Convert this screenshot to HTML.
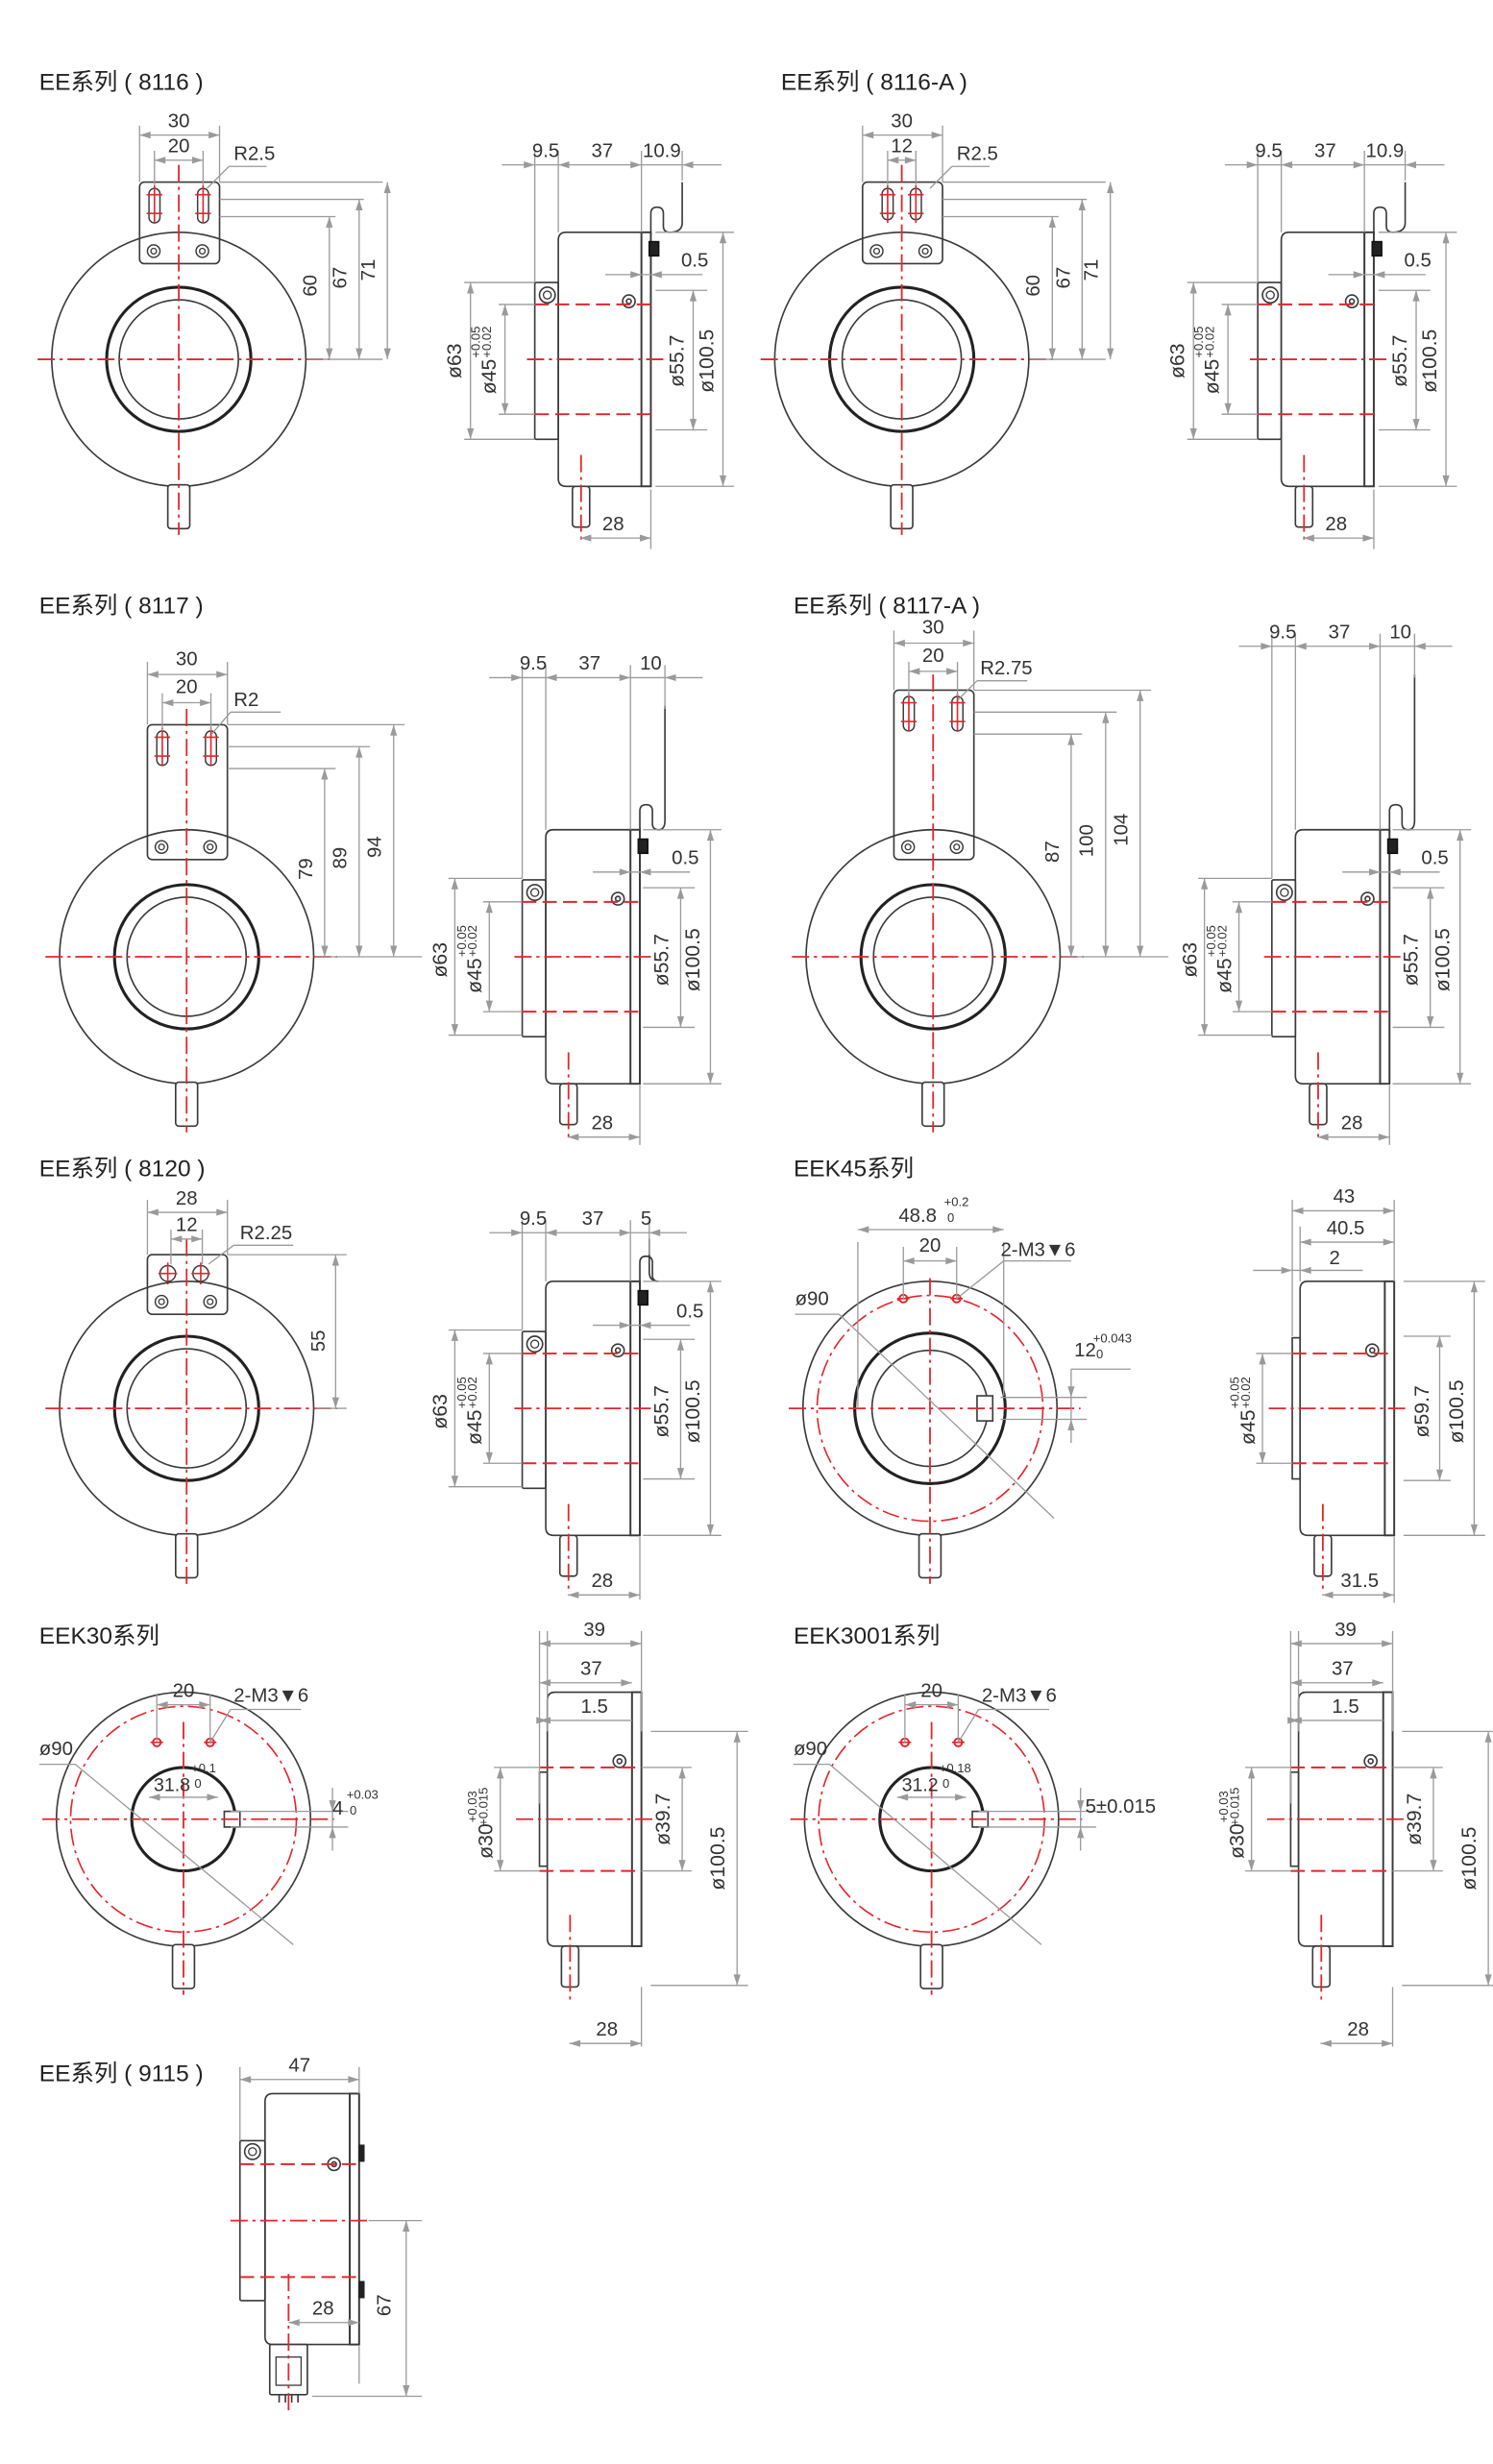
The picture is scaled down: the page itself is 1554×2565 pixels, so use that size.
<!DOCTYPE html>
<html><head><meta charset="utf-8">
<style>
html,body{margin:0;padding:0;background:#fff;}
#c{width:1554px;height:2560px;}
svg text{font-family:"Liberation Sans Narrow","Liberation Sans","Noto Sans CJK SC",sans-serif;fill:#333;}
svg text.h{font-family:"Liberation Sans","Noto Sans CJK SC",sans-serif;fill:#222;}
</style></head><body>
<div id="c"></div>
<script>
const S=[];const RED='#e3262c',G='#9a9a9a',K='#3a3a3a';
function L(x1,y1,x2,y2,c,w,da){S.push(`<line x1="${x1}" y1="${y1}" x2="${x2}" y2="${y2}" stroke="${c||K}" stroke-width="${w||0.8}"${da?` stroke-dasharray="${da}"`:''}/>`);}
function R(x,y,w,h,rx,c,sw,fill){S.push(`<rect x="${x}" y="${y}" width="${w}" height="${h}" rx="${rx||0}" fill="${fill||'none'}" stroke="${c||K}" stroke-width="${sw||0.9}"/>`);}
function C(x,y,r,c,sw,da,fill){S.push(`<circle cx="${x}" cy="${y}" r="${r}" fill="${fill||'none'}" stroke="${c||K}" stroke-width="${sw||0.9}"${da?` stroke-dasharray="${da}"`:''}/>`);}
function P(d,c,sw,fill){S.push(`<path d="${d}" fill="${fill||'none'}" stroke="${c||K}" stroke-width="${sw||0.9}"/>`);}
function T(x,y,s,sz,rot,cls){sz=sz||12.5;S.push(`<text x="${x}" y="${y}" font-size="${sz}" text-anchor="middle"${cls?` class="${cls}"`:''}${rot?` transform="rotate(-90 ${x} ${y})"`:''}>${s}</text>`);}
function TL(x,y,s,sz,cls){S.push(`<text x="${x}" y="${y}" font-size="${sz||12.5}"${cls?` class="${cls}"`:''}>${s}</text>`);}
function arr(x,y,d){let p;const a=7,b=2.2;
 if(d=='l')p=`${x},${y} ${x+a},${y-b} ${x+a},${y+b}`;if(d=='r')p=`${x},${y} ${x-a},${y-b} ${x-a},${y+b}`;
 if(d=='u')p=`${x},${y} ${x-b},${y+a} ${x+b},${y+a}`;if(d=='d')p=`${x},${y} ${x-b},${y-a} ${x+b},${y-a}`;
 S.push(`<polygon points="${p}" fill="${G}"/>`);}
function dH(x1,x2,y){L(x1,y,x2,y,G);arr(x1,y,'l');arr(x2,y,'r');}
function dV(x,y1,y2){L(x,y1,x,y2,G);arr(x,y1,'u');arr(x,y2,'d');}
/* rotated label with stacked tolerance */
function TV(x,y,main,t1,t2){T(x,y+8,main,13,1);T(x-10,y-14,t1,8,1);T(x-3,y-14,t2,8,1);}
const DD='11 3 2 3',DS='9 4';
function H(x,y,s){TL(x,y,s,15,'h');}
function front(cx,cy,o){
 C(cx,cy,81,K,1);
 if(o.red)C(cx,cy,72,RED,1,DD);
 const ro=o.ro||46,ri=o.ri||38;
 C(cx,cy,ro,'#222',1.9);if(ri!=ro)C(cx,cy,ri,K,1);
 if(o.key){R(cx+ri-7,cy-o.key,10,o.key*2,0,K,1,'#fff');}
 R(cx-7,cy+80,14,28,2,K,1,'#fff');
 L(cx-90,cy,cx+96,cy,RED,1.1,DD);
 L(cx,(o.vtop||cy-96),cx,cy+112,RED,1.1,DD);
}
function bracket(cx,top,bot,slot,round){
 R(cx-25,top,51,bot-top,3,K,1,'#fff');
 if(round){[cx-12,cx+9].forEach(x=>{C(x,top+12,5,K,0.9);L(x-6,top+12,x+6,top+12,RED,1);L(x,top+5,x,top+19,RED,1);});}
 else{[cx-slot,cx+slot].forEach(x=>{R(x-3.5,top+4,7,slot>10?22:20,3.5,K,0.9);L(x,top+2,x,top+26,RED,1);L(x-5,top+8,x+5,top+8,RED,1);L(x-5,top+20,x+5,top+20,RED,1);});}
 [cx-16,cx+15].forEach(x=>{C(x,bot-8,4,K,0.9);C(x,bot-8,1.8,K,0.8);});
}
function side(x0,cy,o){
 const w=o.w||53,t=cy-81,b=cy+81;
 if(o.plate){R(x0-15,cy-49,15,100,1,K,1,'#fff');C(x0-7,cy-41,5,K,1);C(x0-7,cy-41,2.5,K,0.8);}
 if(o.collar){R(x0-5,cy-o.collar,5,o.collar*2,0,K,1,'#fff');}
 P(`M${x0+w},${t} L${x0+5},${t} Q${x0},${t} ${x0},${t+5} L${x0},${b-5} Q${x0},${b} ${x0+5},${b} L${x0+w},${b}`,K,1);
 R(x0+w,t,6,162,0,K,1.2,'#fff');
 C(x0+w-8,cy-37,4,K,1);C(x0+w-8,cy-37,1.5,K,1);
 const ry=o.ry||35;
 L(x0-(o.plate?15:5),cy-ry,x0+w+6,cy-ry,RED,1.2,DS);L(x0-(o.plate?15:5),cy+ry,x0+w+6,cy+ry,RED,1.2,DS);
 L(x0-20,cy,x0+w+14,cy,RED,1.1,DD);
 R(x0+9,b,11,26,2,K,1,'#fff');L(x0+14.5,b-20,x0+14.5,b+34,RED,1.1,DD);
 if(o.wire){const px=x0+w+6,wx=px+o.wd;
  P(`M${px},${t+2} L${px},${t-12} Q${px},${t-16} ${px+4},${t-16} Q${px+8},${t-16} ${px+8},${t-12} L${px+8},${t-4} Q${px+8},${t} ${px+12},${t} Q${wx},${t} ${wx},${t-6} L${wx},${o.wire}`,K,1);
  R(px-1,t+6,6,9,0,'#111',1,'#222');}
}
function row1(ox,twelve){
 H(twelve?498:25,57,twelve?'EE系列 ( 8116-A )':'EE系列 ( 8116 )');
 const cx=ox+114,cy=229;
 bracket(cx,116,168,twelve?9:15.5);
 front(cx,cy,{vtop:105});
 L(cx-25,80,cx-25,116,G);L(cx+26,80,cx+26,116,G);dH(cx-25,cx+26,86);T(cx,81,'30');
 const s=twelve?9:15.5;L(cx-s,96,cx-s,118,G);L(cx+s,96,cx+s,118,G);dH(cx-s,cx+s,102);T(cx,97,twelve?'12':'20');
 TL(cx+35,102,'R2.5');L(cx+18,120,cx+32,106,G);L(cx+32,106,cx+56,106,G);
 L(cx+26,116,cx+130,116,G);L(cx+26,127,cx+118,127,G);L(cx+26,138,cx+100,138,G);L(cx+82,cy,cx+130,cy,G);
 dV(cx+96,138,cy);T(cx+88,182,'60',12.5,1);dV(cx+115,127,cy);T(cx+107,177,'67',12.5,1);dV(cx+133,116,cy);T(cx+125,172,'71',12.5,1);
 const x0=ox+356;
 side(x0,cy,{plate:1,wire:116,wd:20});
 L(x0-15,96,x0-15,180,G);L(x0,96,x0,148,G);L(x0+53,96,x0+53,148,G);L(x0+79,96,x0+79,115,G);
 L(x0-36,105,x0+104,105,G);arr(x0-15,105,'r');arr(x0,105,'l');arr(x0+53,105,'r');arr(x0+79,105,'l');
 T(x0-8,100,'9.5');T(x0+28,100,'37');T(x0+66,100,'10.9');
 L(x0-60,180,x0-15,180,G);L(x0-60,280,x0-15,280,G);dV(x0-56,180,280);T(x0-62,230,'ø63',13,1);
 L(x0-38,194,x0-15,194,G);L(x0-38,264,x0-15,264,G);dV(x0-34,194,264);TV(x0-40,232,'ø45','+0.05','+0.02');
 L(x0+62,185,x0+95,185,G);L(x0+62,274,x0+95,274,G);dV(x0+86,185,274);T(x0+80,230,'ø55.7',13,1);
 L(x0+62,148,x0+112,148,G);L(x0+62,310,x0+112,310,G);dV(x0+105,148,310);T(x0+99,230,'ø100.5',13,1);
 L(x0+30,175,x0+92,175,G);arr(x0+53,175,'r');arr(x0+59,175,'l');T(x0+87,170,'0.5');
 L(x0+59,312,x0+59,350,G);dH(x0+14,x0+59,343);T(x0+35,338,'28');
}
row1(0,0);row1(461,1);
function row2(ox,cx,btop,labs,slot,sx,dimtop,lbl,title,hx){
 const cy=610;H(hx,391,title);
 bracket(cx,btop,548,slot);front(cx,cy,{vtop:btop-10});
 L(cx-25,dimtop-8,cx-25,btop,G);L(cx+26,dimtop-8,cx+26,btop,G);dH(cx-25,cx+26,dimtop);T(cx,dimtop-6,'30');
 L(cx-slot,dimtop+12,cx-slot,btop+4,G);L(cx+slot,dimtop+12,cx+slot,btop+4,G);dH(cx-slot,cx+slot,dimtop+18);T(cx,dimtop+12,'20');
 TL(cx+30,dimtop+20,lbl);L(cx+16,btop+6,cx+28,dimtop+24,G);L(cx+28,dimtop+24,cx+60,dimtop+24,G);
 const ys=[btop+28,btop+14,btop];
 ys.forEach((y,i)=>{L(cx+26,y,cx+95+i*22,y,G);const x=cx+88+i*22;dV(x,y,cy);T(x-8,(y+cy)/2+4,labs[i],12.5,1);});
 L(cx+82,cy,cx+150,cy,G);
 const x0=sx;side(x0,cy,{plate:1,wire:dimtop+20,wd:16,w:54});
 const t=dimtop+2;
 L(x0-15,t-8,x0-15,560,G);L(x0,t-8,x0,529,G);L(x0+54,t-8,x0+54,529,G);L(x0+76,t-8,x0+76,t+20,G);
 L(x0-36,t,x0+100,t,G);arr(x0-15,t,'r');arr(x0,t,'l');arr(x0+54,t,'r');arr(x0+76,t,'l');
 T(x0-8,t-5,'9.5');T(x0+28,t-5,'37');T(x0+67,t-5,'10');
 L(x0-62,560,x0-15,560,G);L(x0-62,660,x0-15,660,G);dV(x0-58,560,660);T(x0-63,612,'ø63',13,1);
 L(x0-40,575,x0-15,575,G);L(x0-40,645,x0-15,645,G);dV(x0-36,575,645);TV(x0-41,614,'ø45','+0.05','+0.02');
 L(x0+62,566,x0+95,566,G);L(x0+62,655,x0+95,655,G);dV(x0+86,566,655);T(x0+78,612,'ø55.7',13,1);
 L(x0+62,529,x0+112,529,G);L(x0+62,691,x0+112,691,G);dV(x0+105,529,691);T(x0+98,612,'ø100.5',13,1);
 L(x0+30,556,x0+92,556,G);arr(x0+54,556,'r');arr(x0+60,556,'l');T(x0+89,551,'0.5');
 L(x0+60,692,x0+60,730,G);dH(x0+14,x0+60,725);T(x0+36,720,'28');
}
row2(0,119,462,['79','89','94'],15.5,348,430,'R2','EE系列 ( 8117 )',25);
row2(0,595,440,['87','100','104'],15.5,826,410,'R2.75','EE系列 ( 8117-A )',506);
(function(){const cx=119,cy=898;H(25,750,'EE系列 ( 8120 )');
 bracket(cx,800,838,0,1);front(cx,cy,{vtop:790});
 L(cx-25,765,cx-25,800,G);L(cx+26,765,cx+26,800,G);dH(cx-25,cx+26,773);T(cx,768,'28');
 L(cx-10,784,cx-10,806,G);L(cx+10,784,cx+10,806,G);dH(cx-10,cx+10,790);T(cx,785,'12');
 TL(cx+34,790,'R2.25');L(cx+14,806,cx+30,794,G);L(cx+30,794,cx+68,794,G);
 L(cx+26,800,cx+102,800,G);L(cx+82,cy,cx+102,cy,G);dV(cx+95,800,cy);T(cx+88,855,'55',12.5,1);
 const x0=348;side(x0,cy,{plate:1,wire:790,wd:6,w:54});
 const t=786;L(x0-15,t-8,x0-15,848,G);L(x0,t-8,x0,817,G);L(x0+54,t-8,x0+54,817,G);L(x0+66,t-8,x0+66,800,G);
 L(x0-36,t,x0+90,t,G);arr(x0-15,t,'r');arr(x0,t,'l');arr(x0+54,t,'r');arr(x0+66,t,'l');
 T(x0-8,t-5,'9.5');T(x0+30,t-5,'37');T(x0+64,t-5,'5');
 L(x0-62,848,x0-15,848,G);L(x0-62,948,x0-15,948,G);dV(x0-58,848,948);T(x0-63,900,'ø63',13,1);
 L(x0-40,863,x0-15,863,G);L(x0-40,933,x0-15,933,G);dV(x0-36,863,933);TV(x0-41,902,'ø45','+0.05','+0.02');
 L(x0+62,854,x0+95,854,G);L(x0+62,943,x0+95,943,G);dV(x0+86,854,943);T(x0+78,900,'ø55.7',13,1);
 L(x0+62,817,x0+112,817,G);L(x0+62,979,x0+112,979,G);dV(x0+105,817,979);T(x0+98,900,'ø100.5',13,1);
 L(x0+30,845,x0+92,845,G);arr(x0+54,845,'r');arr(x0+60,845,'l');T(x0+92,840,'0.5');
 L(x0+60,980,x0+60,1020,G);dH(x0+14,x0+60,1017);T(x0+36,1012,'28');
})();
(function(){const cx=593,cy=898;H(506,750,'EEK45系列');
 front(cx,cy,{red:1,ro:48,ri:37,key:8,vtop:815});
 [cx-17,cx+17].forEach(x=>{C(x,828,2.5,RED,1.2);L(x-4,828,x+4,828,RED,1);});
 L(cx-46,792,cx-46,898,G);L(cx+47,792,cx+47,890,G);dH(cx-46,cx+47,784);TL(cx-20,779,'48.8',12.5);TL(cx+9,769,'+0.2',8);TL(cx+11,779,'0',8);
 L(cx-17,795,cx-17,828,G);L(cx+17,795,cx+17,828,G);dH(cx-17,cx+17,804);T(cx,798,'20');
 TL(cx+45,801,'2-M3▼6');L(cx+17,828,cx+47,804,G);L(cx+47,804,cx+90,804,G);
 TL(507,832,'ø90');L(507,838,535,838,G);L(535,838,672,968,G);
 L(cx+45,891,cx+100,891,G);L(cx+45,905,cx+100,905,G);L(cx+90,873,cx+128,873,G);L(cx+90,873,cx+90,920,G);arr(cx+90,891,'d');arr(cx+90,905,'u');
 TL(cx+92,865,'12',12.5);TL(cx+104,856,'+0.043',8);TL(cx+106,866,'0',8);
 const x0=829;side(x0,cy,{collar:45,w:54});
 L(x0-5,765,x0-5,852,G);L(x0,782,x0,817,G);L(x0+60,765,x0+60,817,G);
 dH(x0-5,x0+60,772);T(x0+28,767,'43');dH(x0,x0+60,792);T(x0+29,787,'40.5');
 L(x0-30,810,x0+40,810,G);arr(x0-5,810,'r');arr(x0,810,'l');T(x0+22,806,'2');
 L(x0-28,863,x0-5,863,G);L(x0-28,933,x0-5,933,G);dV(x0-24,863,933);TV(x0-29,902,'ø45','+0.05','+0.02');
 L(x0+66,852,x0+96,852,G);L(x0+66,944,x0+96,944,G);dV(x0+89,852,944);T(x0+82,900,'ø59.7',13,1);
 L(x0+66,817,x0+118,817,G);L(x0+66,979,x0+118,979,G);dV(x0+111,817,979);T(x0+104,900,'ø100.5',13,1);
 L(x0+60,980,x0+60,1022,G);dH(x0+14,x0+60,1017);T(x0+38,1012,'31.5');
})();
function row4(ox,cx,title,inner,innerTol,keyLbl,sx){
 const cy=1160;H(ox+25,1048,title);
 front(cx,cy,{red:1,ro:33,ri:33,key:5,vtop:1098});
 [cx-17,cx+17].forEach(x=>{C(x,1111,2.5,RED,1.2);L(x-4,1111,x+4,1111,RED,1);});
 L(cx-17,1080,cx-17,1111,G);L(cx+17,1080,cx+17,1111,G);dH(cx-17,cx+17,1087);T(cx,1082,'20');
 TL(cx+32,1085,'2-M3▼6');L(cx+17,1111,cx+30,1090,G);L(cx+30,1090,cx+75,1090,G);
 TL(ox+25,1119,'ø90');L(ox+25,1125,ox+48,1125,G);L(ox+48,1125,cx+70,1240,G);
 L(cx-22,1146,cx+22,1146,G);arr(cx-22,1146,'l');arr(cx+22,1146,'r');
 TL(cx-19,1142,inner,12);TL(cx+5,1130,innerTol[0],8);TL(cx+7,1140,innerTol[1],8);
 L(cx+30,1155,cx+105,1155,G);L(cx+30,1165,cx+105,1165,G);L(cx+95,1140,cx+95,1180,G);arr(cx+95,1155,'d');arr(cx+95,1165,'u');
 if(keyLbl=='4'){TL(cx+95,1157,'4',12.5);TL(cx+104,1147,'+0.03',8);TL(cx+106,1157,'0',8);}
 else{TL(cx+98,1156,keyLbl,12.5);}
 const x0=sx;side(x0,cy,{collar:30,w:54,ry:33});
 L(x0-5,1040,x0-5,1150,G);L(x0,1040,x0,1104,G);L(x0+60,1040,x0+60,1104,G);
 dH(x0-5,x0+60,1048);T(x0+30,1043,'39');dH(x0-5,x0+54,1073);T(x0+28,1068,'37');
 dH(x0-5,x0,1097);T(x0+30,1092,'1.5');L(x0,1097,x0+54,1097,G);
 L(x0-34,1127,x0-5,1127,G);L(x0-34,1193,x0-5,1193,G);dV(x0-30,1127,1193);TV(x0-35,1166,'ø30','+0.03','+0.015');
 L(x0+60,1127,x0+92,1127,G);L(x0+60,1193,x0+92,1193,G);dV(x0+86,1127,1193);T(x0+78,1160,'ø39.7',13,1);
 L(x0+66,1104,x0+128,1104,G);L(x0+66,1266,x0+128,1266,G);dV(x0+121,1104,1266);T(x0+113,1185,'ø100.5',13,1);
 L(x0+60,1267,x0+60,1305,G);dH(x0+14,x0+60,1303);T(x0+38,1298,'28');
}
row4(0,117,'EEK30系列','31.8',['+0.1','0'],'4',349);
row4(481,594,'EEK3001系列','31.2',['+0.18','0'],'5±0.015',828);
(function(){H(25,1327,'EE系列 ( 9115 )');
 const x0=169,cy=1416,t=1335,b=1495,w=54;
 R(x0-16,1365,16,102,1,K,1,'#fff');C(x0-8,1372,5,K,1);C(x0-8,1372,2.5,K,0.8);
 P(`M${x0+w},${t} L${x0+5},${t} Q${x0},${t} ${x0},${t+5} L${x0},${b-5} Q${x0},${b} ${x0+5},${b} L${x0+w},${b}`,K,1);
 R(x0+w,t,6,160,0,K,1.2,'#fff');R(x0+w+6,1368,3,10,0,'#222',1,'#222');R(x0+w+6,1455,3,10,0,'#222',1,'#222');
 C(x0+w-10,1380,4,K,1);C(x0+w-10,1380,1.5,K,1);
 L(x0-16,1380,x0+w+6,1380,RED,1.2,DS);L(x0-16,1452,x0+w+6,1452,RED,1.2,DS);
 L(x0-22,cy,x0+w+14,cy,RED,1.1,DD);
 R(x0+3,b,24,32,1,K,1,'#fff');R(x0+7,b+8,16,18,0,K,0.8);[0,1,2,3].forEach(i=>L(x0+9+i*4,b+32,x0+9+i*4,b+37,K,1));
 L(x0+15,1450,x0+15,1537,RED,1.1,DD);
 L(x0-16,1318,x0-16,1365,G);L(x0+60,1318,x0+60,1335,G);dH(x0-16,x0+60,1326);T(x0+22,1321,'47');
 L(x0+60,1496,x0+60,1520,G);dH(x0+15,x0+60,1481);T(x0+37,1476,'28');
 L(x0+66,cy,x0+100,cy,G);L(x0+30,1528,x0+100,1528,G);dV(x0+90,cy,1528);T(x0+80,1470,'67',12.5,1);
})();
document.getElementById('c').innerHTML=`<svg xmlns="http://www.w3.org/2000/svg" width="1554" height="2560" viewBox="0 0 952 1568">${S.join('')}</svg>`;
</script>
</body></html>
